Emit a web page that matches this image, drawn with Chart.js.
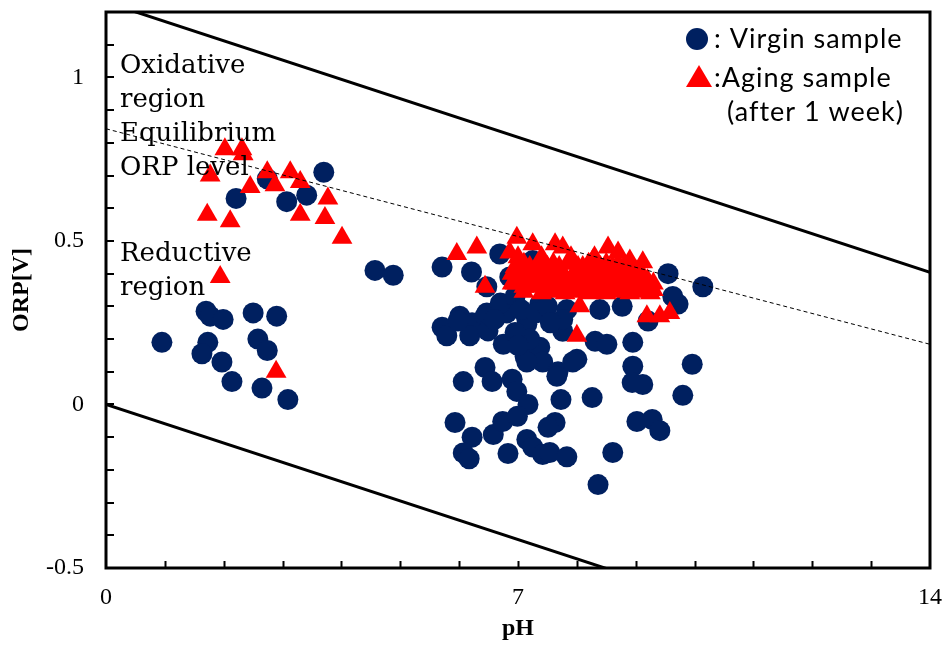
<!DOCTYPE html>
<html>
<head>
<meta charset="utf-8">
<script src="https://cdn.jsdelivr.net/npm/chart.js@4.4.0/dist/chart.umd.min.js"></script>
<style>
  html, body { margin: 0; padding: 0; background: #fff; }
</style>
</head>
<body>
<canvas id="myChart" width="947" height="648"></canvas>
<script>
// pH / ORP readings, virgin samples
const virginPH = [
  0.95, 1.70, 1.77, 1.99, 2.50, 2.90, 1.73, 1.63, 1.97, 2.58, 2.74, 2.14, 2.65, 3.09,
  2.21, 2.74, 3.07, 3.41, 3.70,
  4.57, 4.88, 5.71, 6.21, 6.47, 6.69, 6.86, 5.71, 5.79, 6.01, 6.22, 6.18, 6.44, 6.49,
  6.75, 6.83, 7.15, 7.12, 7.37, 7.42, 7.76, 7.68, 8.00, 8.31, 8.51, 8.95, 8.95, 9.12,
  8.94, 9.96, 9.80, 6.07, 6.44, 6.56, 6.90, 6.98, 7.17, 7.73, 8.26, 7.63, 7.51, 5.93,
  6.22, 6.07, 6.17, 6.58, 6.74, 6.99, 6.83, 7.15, 7.25, 7.42, 7.54, 7.83, 7.15, 7.66,
  9.02, 9.28, 9.41, 8.61, 8.36, 7.93, 7.37, 8.39, 8.77, 9.21, 9.72, 9.55, 10.14, 9.63,
  7.83, 6.47, 6.81, 7.15, 7.76, 5.98, 6.70, 6.95, 7.05, 7.30, 7.50, 7.55, 7.20, 6.95,
  7.00, 6.60, 7.25, 7.60, 8.20, 8.80
];
const virginORP = [
  0.19, 0.285, 0.27, 0.26, 0.28, 0.27, 0.19, 0.155, 0.13, 0.20, 0.165, 0.07, 0.05, 0.015,
  0.63, 0.69, 0.62, 0.64, 0.71,
  0.41, 0.395, 0.42, 0.405, 0.36, 0.46, 0.39, 0.236, 0.21, 0.27, 0.25, 0.21, 0.27, 0.225,
  0.184, 0.29, 0.245, 0.147, 0.175, 0.13, 0.224, 0.10, 0.138, 0.193, 0.184, 0.19, 0.117, 0.061,
  0.067, 0.123, 0.028, 0.07, 0.113, 0.07, 0.077, 0.04, 0.0, 0.015, 0.021, -0.055, -0.07, -0.055,
  -0.10, -0.148, -0.166, -0.092, -0.052, -0.036, -0.15, -0.107, -0.13, -0.153, -0.147, -0.16, 0.13, 0.086,
  -0.052, -0.046, -0.08, -0.147, -0.245, 0.13, 0.307, 0.29, 0.30, 0.255, 0.307, 0.40, 0.36, 0.33,
  0.29, 0.28, 0.28, 0.26, 0.26, 0.255, 0.31, 0.33, 0.29, 0.28, 0.30, 0.25, 0.20, 0.22,
  0.18, 0.26, 0.44, 0.38, 0.36, 0.40
];

// pH / ORP readings, aged samples (after 1 week)
const agingPH = [
  2.02, 2.31, 2.33, 1.77, 2.45, 2.74, 2.87, 3.13, 3.30, 1.72, 2.11, 3.30, 3.77, 3.72, 4.01,
  1.94, 2.89,
  5.96, 6.30, 6.44, 6.98, 7.25, 7.63, 7.76, 8.53, 8.70, 9.12, 8.27, 8.00, 8.05, 9.19, 9.41,
  9.58, 6.86, 8.02, 6.90,
  7.00, 7.40, 7.90, 8.30, 8.90,
  7.10, 7.35, 7.60, 7.85, 8.20, 8.50, 8.70, 8.95,
  6.95, 7.20, 7.50, 7.70, 8.10, 8.40, 8.60, 8.80, 9.00,
  6.90, 7.15, 7.40, 7.65, 7.95, 8.20, 8.45, 8.65, 8.90, 9.10,
  7.05, 7.30, 7.55, 7.80, 8.05, 8.30, 8.55, 8.75, 9.00, 9.20, 9.30,
  6.95, 7.20, 7.50, 7.70, 7.95, 8.20, 8.45, 8.70, 8.95, 9.20,
  7.10, 7.35, 7.60, 7.85, 8.10, 8.35, 8.60, 8.85, 9.10, 9.30,
  7.10, 7.40, 7.60, 7.80, 8.00, 8.20, 8.35, 8.50, 8.70, 8.90, 9.05, 9.25
];
const agingORP = [
  0.78, 0.78, 0.765, 0.70, 0.665, 0.71, 0.67, 0.71, 0.68, 0.58, 0.56, 0.58, 0.63, 0.57, 0.51,
  0.39, 0.10,
  0.46, 0.48, 0.36, 0.51, 0.49, 0.49, 0.48, 0.48, 0.465, 0.435, 0.44, 0.21, 0.30, 0.27, 0.27,
  0.28, 0.465, 0.42, 0.37,
  0.45, 0.45, 0.45, 0.45, 0.44,
  0.43, 0.43, 0.43, 0.43, 0.43, 0.43, 0.43, 0.42,
  0.42, 0.42, 0.42, 0.42, 0.42, 0.42, 0.42, 0.42, 0.41,
  0.40, 0.40, 0.40, 0.40, 0.40, 0.40, 0.40, 0.40, 0.40, 0.40,
  0.39, 0.39, 0.39, 0.39, 0.39, 0.39, 0.39, 0.39, 0.39, 0.38, 0.37,
  0.37, 0.37, 0.37, 0.37, 0.37, 0.37, 0.37, 0.37, 0.37, 0.37,
  0.36, 0.36, 0.36, 0.36, 0.36, 0.36, 0.36, 0.36, 0.36, 0.35,
  0.345, 0.34, 0.345, 0.34, 0.345, 0.34, 0.345, 0.34, 0.345, 0.34, 0.345, 0.34
];

// boundary lines (end points at pH 0 and 14)
const lineEndsPH = [0, 14];
const upperBoundORP = [1.23, 0.404];
const lowerBoundORP = [0, -0.826];
const equilibriumORP = [0.843, 0.184];

// axis ticks
const xTickValues = [0, 7, 14];
const yTickValues = [-0.5, 0, 0.5, 1];
const xMinorTicks = [1, 2, 3, 4, 5, 6, 7, 8, 9, 10, 11, 12, 13];
const yMinorTicks = [-0.4, -0.3, -0.2, -0.1, 0, 0.1, 0.2, 0.3, 0.4, 0.5, 0.6, 0.7, 0.8, 0.9, 1.0, 1.1];

const NAVY = '#002060';
const RED = '#ff0000';

function toPoints(xs, ys) {
    return xs.map((x, i) => ({ x: x, y: ys[i] }));
}

function lineDataset(ys, dash) {
    return {
        data: toPoints(lineEndsPH, ys),
        showLine: true,
        borderColor: '#000',
        borderWidth: dash ? 1 : 3,
        borderDash: dash ? [4, 3] : [],
        pointRadius: 0,
        order: 0
    };
}

// frame, inward tick marks, region labels and the legend
const decorations = {
    id: 'decorations',
    afterDatasetsDraw(chart) {
        const ctx = chart.ctx;
        const a = chart.chartArea;
        const xs = chart.scales.x;
        const ys = chart.scales.y;
        ctx.save();

        ctx.strokeStyle = '#000';
        ctx.lineWidth = 2;
        ctx.beginPath();
        xMinorTicks.forEach(v => {
            const px = Math.round(xs.getPixelForValue(v)) + 0.5;
            ctx.moveTo(px, a.bottom);
            ctx.lineTo(px, a.bottom - 7);
        });
        yMinorTicks.forEach(v => {
            const py = Math.round(ys.getPixelForValue(v));
            ctx.moveTo(a.left, py);
            ctx.lineTo(a.left + 8, py);
        });
        ctx.stroke();

        ctx.lineWidth = 3;
        ctx.strokeRect(a.left, a.top, a.right - a.left, a.bottom - a.top);

        // region text
        ctx.fillStyle = '#000';
        ctx.font = '26px "DejaVu Serif"';
        ctx.textAlign = 'left';
        ctx.textBaseline = 'alphabetic';
        const lines = [['Oxidative', 73], ['region', 107], ['Equilibrium', 141],
                       ['ORP level', 175], ['Reductive', 261], ['region', 295]];
        lines.forEach(l => ctx.fillText(l[0], 120, l[1]));

        // legend
        ctx.fillStyle = NAVY;
        ctx.beginPath();
        ctx.arc(697, 39, 11, 0, Math.PI * 2);
        ctx.fill();
        ctx.fillStyle = RED;
        ctx.beginPath();
        ctx.moveTo(699, 65);
        ctx.lineTo(712, 87);
        ctx.lineTo(686, 87);
        ctx.closePath();
        ctx.fill();

        ctx.fillStyle = '#000';
        ctx.font = '27px Lato';
        ctx.letterSpacing = '1px';
        ctx.fillText(': Virgin sample', 714, 48);
        ctx.fillText(':Aging sample', 714, 87);
        ctx.fillText('(after 1 week)', 727, 121);
        ctx.restore();
    }
};

const serif = '"Liberation Serif"';

const ctx = document.getElementById('myChart');
new Chart(ctx.getContext('2d'), {
    type: 'scatter',
    data: {
        datasets: [
            lineDataset(upperBoundORP, false),
            lineDataset(lowerBoundORP, false),
            lineDataset(equilibriumORP, true),
            {
                data: toPoints(agingPH, agingORP),
                pointStyle: 'triangle',
                pointRadius: 12,
                pointBackgroundColor: RED,
                pointBorderColor: RED,
                pointBorderWidth: 0,
                order: 1
            },
            {
                data: toPoints(virginPH, virginORP),
                pointStyle: 'circle',
                pointRadius: 10.5,
                pointBackgroundColor: NAVY,
                pointBorderColor: NAVY,
                pointBorderWidth: 0,
                order: 2
            }
        ]
    },
    options: {
        responsive: false,
        animation: false,
        events: [],
        devicePixelRatio: 1,
        layout: { padding: { top: 12, right: 17, left: 0, bottom: 0 } },
        plugins: {
            legend: { display: false },
            tooltip: { enabled: false }
        },
        scales: {
            x: {
                type: 'linear',
                min: 0,
                max: 14,
                afterBuildTicks: s => { s.ticks = xTickValues.map(v => ({ value: v })); },
                afterFit: s => { s.height = 80; s.paddingLeft = 0; s.paddingRight = 0; },
                grid: { display: false, drawTicks: false },
                border: { display: false },
                ticks: {
                    padding: 15,
                    color: '#000',
                    font: { family: serif, size: 24 },
                    callback: v => String(v)
                },
                title: {
                    display: true,
                    text: 'pH',
                    color: '#000',
                    font: { family: serif, size: 24, weight: 'bold' },
                    padding: { top: 0, bottom: 5 }
                }
            },
            y: {
                type: 'linear',
                min: -0.5,
                max: 1.2,
                afterBuildTicks: s => { s.ticks = yTickValues.map(v => ({ value: v })); },
                afterFit: s => { s.width = 106; s.paddingTop = 0; s.paddingBottom = 0; },
                grid: { display: false, drawTicks: false },
                border: { display: false },
                ticks: {
                    padding: 22,
                    color: '#000',
                    font: { family: serif, size: 24 },
                    callback: v => String(v)
                },
                title: {
                    display: true,
                    text: 'ORP[V]',
                    color: '#000',
                    font: { family: serif, size: 24, weight: 'bold' },
                    padding: { top: 7, bottom: 0 }
                }
            }
        }
    },
    plugins: [decorations]
});
</script>
</body>
</html>
